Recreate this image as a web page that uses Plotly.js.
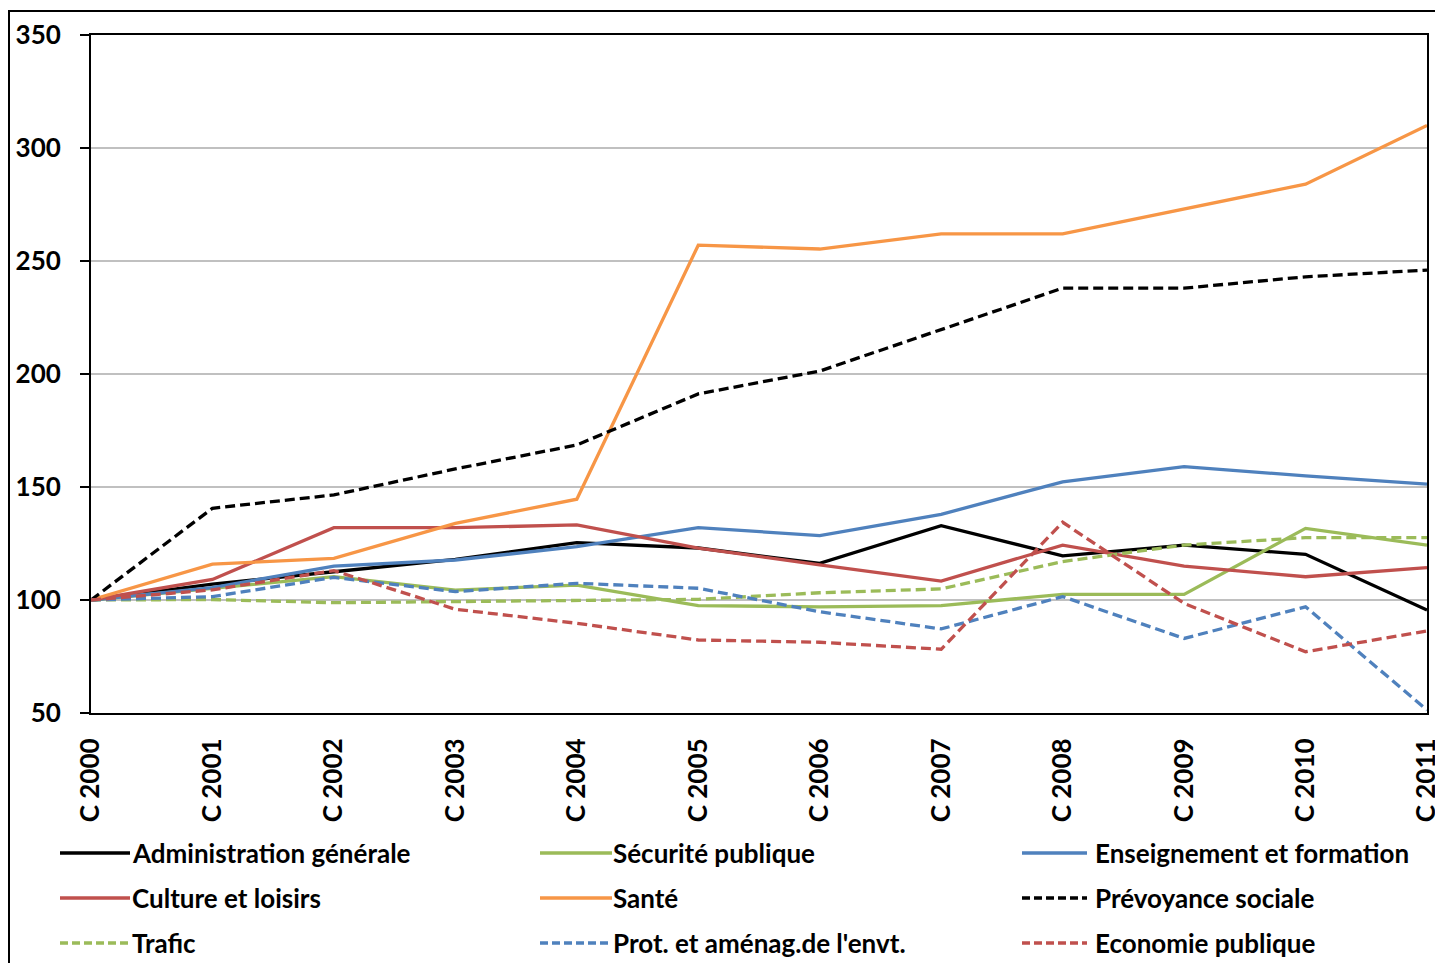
<!DOCTYPE html>
<html>
<head>
<meta charset="utf-8">
<script src="https://cdn.plot.ly/plotly-3.0.1.min.js"></script>
<style>
html,body{margin:0;padding:0;background:#fff;overflow:hidden;}
#chart{width:1435px;height:963px;}
</style>
</head>
<body>
<div id="chart"></div>
<script>
// ---- data ----
const categories = ["C 2000","C 2001","C 2002","C 2003","C 2004","C 2005","C 2006","C 2007","C 2008","C 2009","C 2010","C 2011"];
const seriesNames = ["Administration générale","Sécurité publique","Enseignement et formation","Culture et loisirs","Santé","Prévoyance sociale","Trafic","Prot. et aménag.de l'envt.","Economie publique"];
const administration = [100,107,112.5,118,125.4,123,116.2,132.9,119.5,124.3,120.2,95.6];
const securite       = [100,105,110.3,104.4,106.6,97.5,97,97.5,102.5,102.5,131.7,124.3];
const enseignement   = [100,105.5,115,117.7,123.6,132,128.5,137.9,152.3,159,154.9,151.3];
const culture        = [100,109.1,132,132,133.2,123,115.5,108.4,124.3,115,110.3,114.3];
const sante          = [100,115.9,118.4,133.9,144.6,257,255.3,262,262,273,284,310];
const prevoyance     = [100,140.6,146.5,158,168.6,191.2,201.3,219.5,238,238,243,246];
const trafic         = [100,100.2,98.8,99.3,100,100.3,103.2,104.9,117,124.3,127.6,127.6];
const protEnvt       = [100,101.5,110,103.7,107.4,105.2,94.8,87.2,101.5,83,97,51.3];
const economie       = [100,104.5,113,95.9,89.7,82.3,81.3,78.2,134.4,98.5,77.1,86.3];
const yTicks = [50,100,150,200,250,300,350];

const seriesValues = [administration,securite,enseignement,culture,sante,prevoyance,trafic,protEnvt,economie];
const colors = ["#000000","#9BBB59","#4F81BD","#C0504D","#F79646","#000000","#9BBB59","#4F81BD","#C0504D"];
const dashes = ["solid","solid","solid","solid","solid","10px,5px","10px,5px","10px,5px","10px,5px"];

const FONT = "Lato, 'Open Sans', sans-serif";
const FS = 26;

const traces = seriesNames.map((n,i)=>({
  type:"scatter", mode:"lines", name:n, x:categories, y:seriesValues[i],
  line:{color:colors[i], width:3.3, dash:dashes[i]}, showlegend:false, hoverinfo:"skip"
}));

// plot area pixel geometry
const L=91, R=1427, T=35, B=713;
const px = X => (X-L)/(R-L);
const py = Y => (B-Y)/(B-T);

const shapes = [
  // outer chart frame
  {type:"rect", xref:"paper", yref:"paper", x0:px(9), x1:px(1500), y0:py(1000), y1:py(11),
   line:{color:"#000", width:2}, fillcolor:"rgba(0,0,0,0)", layer:"below"}
];
const annotations = [];
const colX = [[60,130,130],[540,612,611],[1022,1087,1093]];
const rowY = [853,898,943];
seriesNames.forEach((n,i)=>{
  const c = colX[i%3], y = rowY[Math.floor(i/3)];
  shapes.push({type:"line", xref:"paper", yref:"paper", x0:px(c[0]), x1:px(c[1]), y0:py(y), y1:py(y),
    line:{color:colors[i], width:3.3, dash:i>=5?"8px,4px":"solid"}});
  annotations.push({xref:"paper", yref:"paper", x:px(c[2]), y:py(y), text:"<b>"+n+"</b>", showarrow:false,
    xanchor:"left", yanchor:"middle", font:{family:FONT, size:FS, color:"#000"}});
});

const layout = {
  width:1435, height:963,
  margin:{l:L, r:1435-R, t:T, b:963-B, pad:0},
  paper_bgcolor:"#fff", plot_bgcolor:"#fff",
  showlegend:false,
  font:{family:FONT, size:FS, color:"#000"},
  xaxis:{type:"category", categoryorder:"array", categoryarray:categories, range:[0,11],
    showgrid:false, zeroline:false, showline:true, mirror:true, linecolor:"#000", linewidth:2,
    ticks:"", tickangle:-90, ticklabelstandoff:13,
    tickfont:{family:FONT, size:FS, color:"#000", weight:"bold"}},
  xaxis2:{overlaying:"x", anchor:"free", position:(100-50)/300, range:[0,11], tickmode:"linear", tick0:0, dtick:1,
    showgrid:false, zeroline:false, showline:true, linecolor:"#000", linewidth:2,
    ticks:"outside", ticklen:9, tickwidth:2, tickcolor:"#000", showticklabels:false},
  xaxis3:{overlaying:"x", anchor:"free", position:(100-50)/300, range:[0,11], tickmode:"linear", tick0:0, dtick:1,
    showgrid:false, zeroline:false, showline:false,
    ticks:"inside", ticklen:9, tickwidth:2, tickcolor:"#000", showticklabels:false},
  yaxis:{range:[50,350], tickmode:"array", tickvals:yTicks, ticktext:yTicks.map(String),
    showgrid:true, gridcolor:"#c0c0c0", gridwidth:1.5, zeroline:false,
    showline:true, mirror:true, linecolor:"#000", linewidth:2,
    ticks:"outside", ticklen:9, tickwidth:2, tickcolor:"#000", ticklabelstandoff:14,
    tickfont:{family:FONT, size:FS, color:"#000", weight:"bold"}},
  shapes:shapes,
  annotations:annotations
};

Plotly.newPlot("chart", traces, layout, {staticPlot:true, displayModeBar:false});
</script>
</body>
</html>
